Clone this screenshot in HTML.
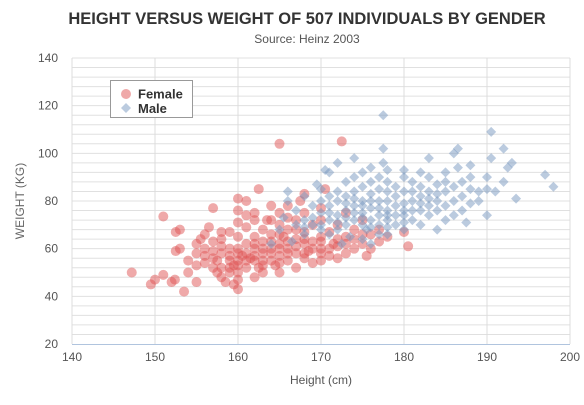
<!DOCTYPE html>
<html><head><meta charset="utf-8"><style>
body{margin:0;background:#fff;font-family:"Liberation Sans",sans-serif;}
svg text{font-family:"Liberation Sans",sans-serif;}
</style></head><body>
<svg id="chart" width="584" height="400" viewBox="0 0 584 400" xmlns="http://www.w3.org/2000/svg">
<text x="307" y="24" text-anchor="middle" font-size="16.5" font-weight="bold" fill="#333">HEIGHT VERSUS WEIGHT OF 507 INDIVIDUALS BY GENDER</text>
<text x="307" y="43" text-anchor="middle" font-size="12" fill="#555">Source: Heinz 2003</text>
<g id="grid"></g>
<g id="axes"></g>
<g id="points"></g>
<text x="321" y="384" text-anchor="middle" font-size="12" fill="#555">Height (cm)</text>
<text transform="translate(24,201) rotate(-90)" text-anchor="middle" font-size="12" fill="#666">WEIGHT (KG)</text>
<g>
<rect x="110.5" y="80.5" width="82" height="37" fill="#fff" stroke="#999"/>
<g><circle cx="126" cy="94" r="5" fill="rgba(223,83,83,0.5)"/><text x="138" y="98.5" font-size="13" font-weight="bold" fill="#333">Female</text></g>
<g><path d="M126,103 L131,108 L126,113 L121,108Z" fill="rgba(119,152,191,0.5)"/><text x="138" y="113" font-size="13" font-weight="bold" fill="#333">Male</text></g>
</g>
</svg>
<script>
const xTicks=[140,150,160,170,180,190,200];
const yTicks=[20,40,60,80,100,120,140];
const female=[[147.2,50],[149.5,45],[150,47],[151,73.5],[151,49],[152,46],[152.4,47],[152.5,59],[152.5,67],[153,60],[153,68],[153.5,42],[154,55],[154,50],[155,53],[155,58],[155,62],[155,46],[155.5,64],[156,54],[156,60],[156,66],[156.5,69],[157,56],[157,77],[157,63],[157.5,50],[157.5,55],[158,52],[158,58],[158,64],[158,48],[158.5,46],[159,50],[159,55],[159,60],[159,67],[159.5,53],[159.5,45],[160,43],[160,47],[160,50],[160,55],[160,60],[160,65],[160,71],[160,76],[160,81],[160.5,57],[161,52],[161,62],[161,69],[161,80],[161.5,56],[162,48],[162,55],[162,60],[162,65],[162,72],[162,75],[162.5,52],[162.5,85],[163,58],[163,63],[163,68],[163,50],[163.5,72],[164,55],[164,60],[164,66],[164,78],[164.5,53],[165,50],[165,57],[165,62],[165,70],[165,75],[165,104],[165.5,65],[166,55],[166,60],[166,68],[166,73],[167,52],[167,58],[167,64],[167,72],[167.5,80],[168,56],[168,62],[168,67],[168,75],[168.5,59],[169,54],[169,63],[169,70],[170,55],[170,60],[170,65],[170,72],[170,77],[171,57],[171,67],[171.5,62],[172,56],[172,64],[172,70],[172.5,105],[173,58],[173,65],[173,75],[174,60],[174,68],[175,62],[175,72],[175.5,57],[176,66],[177,68],[177,63],[178,65],[180,67],[180.5,61],[170.5,85],[168,83],[166,78],[164,72],[161,74],[158,67],[156,57],[157,59],[158,61],[159,57],[160,53],[161,58],[162,57],[162,62],[163,55],[163,60],[164,58],[164,63],[165,60],[165,54],[166,63],[167,61],[168,58],[169,60],[170,58],[171,60],[172,61],[173,62],[174,64],[160,58],[159,52],[161,55],[163,53],[157,52],[166,58],[168,64],[170,63],[175,66],[176,60],[165,66],[167,68]];
const male=[[164,62],[165,68],[165.5,73],[166,84],[166,80],[166.5,63],[167,70],[167,76],[168,66],[168,72],[168,82],[169,73],[169,78],[169.5,87],[170,70],[170,75],[170,80],[170,85],[170.5,93],[171,66],[171,72],[171,78],[171,92],[172,68],[172,74],[172,80],[172,84],[172,96],[172.5,62],[173,70],[173,76],[173,82],[173,88],[173.5,65],[174,72],[174,78],[174,84],[174,90],[175,64],[175,70],[175,75],[175,80],[175,86],[175,92],[175.5,68],[176,72],[176,77],[176,83],[176,88],[176,62],[177,70],[177,74],[177,80],[177,85],[177,90],[177.5,96],[177.5,102],[177.5,116],[178,66],[178,72],[178,76],[178,80],[178,84],[178,88],[178,93],[179,70],[179,78],[179,86],[180,68],[180,74],[180,79],[180,84],[180,90],[180,93],[181,72],[181,80],[181,88],[182,70],[182,76],[182,82],[182,86],[182,92],[183,74],[183,78],[183,84],[183,90],[184,68],[184,76],[184,80],[184,87],[185,72],[185,78],[185,84],[185,92],[186,74],[186,80],[186,86],[186,100],[186.5,94],[187,76],[187,82],[187,88],[187.5,71],[188,79],[188,85],[188,90],[188,95],[189,80],[189,84],[190,74],[190,85],[190,90],[190.5,98],[190.5,109],[191,84],[192,88],[192,102],[192.5,94],[193,96],[193.5,81],[197,91],[198,86],[186.5,102],[183,98],[176,94],[174,98],[170,68],[171,75],[172,71],[173,73],[174,75],[175,73],[176,69],[177,66],[178,69],[178,74],[179,74],[180,71],[180,76],[181,76],[181,84],[182,79],[184,83],[185,88],[176,80],[177,77],[175,78],[174,81],[173,79],[171,82],[169,70],[168,69],[179,82],[183,81]];
const NS="http://www.w3.org/2000/svg";
const X0=72,X1=570,Y0=344,Y1=58;
function xs(v){return X0+(v-140)/60*(X1-X0);}
function ys(v){return Y0-(v-20)/120*(Y0-Y1);}
function mk(t,a,p){const e=document.createElementNS(NS,t);for(const k in a)e.setAttribute(k,a[k]);p.appendChild(e);return e;}
const grid=document.getElementById('grid'),axes=document.getElementById('axes'),pts=document.getElementById('points');
for(let v=24;v<=140;v+=4){const l=mk('line',{x1:X0,x2:X1,y1:ys(v),y2:ys(v),stroke:'#e0e0e0','stroke-width':1},grid);

}
xTicks.forEach(v=>{const l=mk('line',{x1:xs(v),x2:xs(v),y1:Y1,y2:Y0,stroke:'#dcdcdc','stroke-width':1},grid);


const t=mk('text',{x:xs(v),y:Y0+17,'text-anchor':'middle','font-size':12,fill:'#555'},axes);t.textContent=v;

});
yTicks.forEach(v=>{const t=mk('text',{x:X0-14,y:ys(v)+4,'text-anchor':'end','font-size':12,fill:'#555'},axes);t.textContent=v;

});
const ax=mk('line',{x1:X0,x2:X1,y1:Y0+0.5,y2:Y0+0.5,stroke:'#b0c4de','stroke-width':1},axes);


female.forEach(d=>{const c=mk('circle',{cx:xs(d[0]),cy:ys(d[1]),r:5,fill:'rgba(223,83,83,0.5)'},pts);

});
male.forEach(d=>{const x=xs(d[0]),y=ys(d[1]);const p=mk('path',{d:`M${x},${y-5}L${x+5},${y}L${x},${y+5}L${x-5},${y}Z`,fill:'rgba(119,152,191,0.5)'},pts);

});
</script>
</body></html>
